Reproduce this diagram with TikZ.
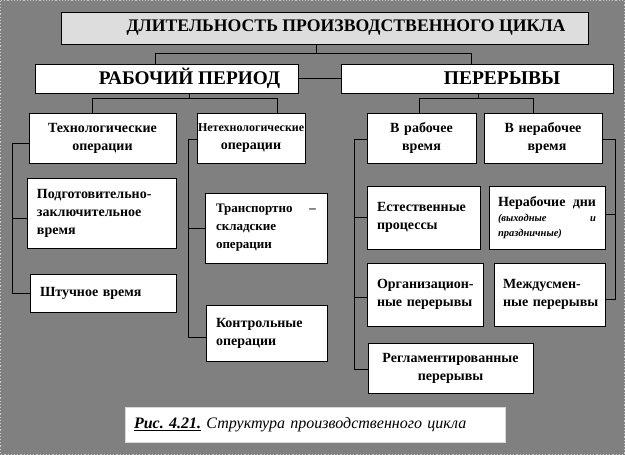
\documentclass[tikz,border=0pt]{standalone}
\usepackage{fontspec}
\setmainfont{Liberation Serif}
\usetikzlibrary{calc}
\definecolor{bggray}{HTML}{808080}
\definecolor{titlegray}{HTML}{DDDDDD}
\begin{document}
\begin{tikzpicture}[x=1pt,y=-1pt,
  box/.style={draw=black, line width=0.8pt, fill=white, inner sep=0pt,
    font=\bfseries\fontsize{14}{18}\selectfont},
  wire/.style={draw=black, line width=0.8pt},
  bigtxt/.style={font=\bfseries\fontsize{19.3}{20}\selectfont}]
\useasboundingbox (0,0) rectangle (625,455);
\fill[bggray] (0,0) rectangle (625,455);
\draw[gray!40, dotted, line width=1.2pt] (0.6,0.6) rectangle (624.4,454.4);

% top levels
\node[box, fill=titlegray, minimum width=527pt, minimum height=32pt, font=\bfseries\fontsize{17.7}{20}\selectfont] (title) at (324.5,28) {\hspace*{43pt}ДЛИТЕЛЬНОСТЬ ПРОИЗВОДСТВЕННОГО ЦИКЛА};
\node[box, minimum width=263pt, minimum height=29pt, bigtxt] (rab) at (166.5,78.5) {\hspace*{46pt}РАБОЧИЙ ПЕРИОД};
\node[box, minimum width=272pt, minimum height=29pt, font=\bfseries\fontsize{19.5}{20}\selectfont] (per) at (477,78.5) {\hspace*{50pt}ПЕРЕРЫВЫ};

% second level
\node[box, minimum width=147pt, minimum height=50pt, text width=140pt, align=center] (tech) at (102.5,138) {Технологические\\операции};
\node[box, minimum width=108pt, minimum height=50pt, text width=106pt, align=center, font=\bfseries\fontsize{12}{18}\selectfont] (nontech) at (251,138) {Нетехнологические\\{\fontsize{14}{18}\selectfont операции}};
\node[box, minimum width=109pt, minimum height=50pt, text width=100pt, align=center] (inwork) at (421.5,138) {В рабочее\\время};
\node[box, minimum width=118pt, minimum height=50pt, text width=100pt, align=center] (nonwork) at (543,138) {В нерабочее\\\hspace*{8pt}время};

% left column
\node[box, minimum width=149pt, minimum height=70pt, text width=129pt, align=left] (prep) at (101.5,213) {Подготовительно-\\заключительное\\время};
\node[box, minimum width=146pt, minimum height=38pt, text width=126pt, align=left] (piece) at (103,293) {Штучное время};

% middle column
\node[box, minimum width=122pt, minimum height=70pt, text width=100pt, align=left, font=\bfseries\fontsize{13}{18}\selectfont] (transp) at (266,228) {Транспортно\hfill –\\складские\\операции};
\node[box, minimum width=121pt, minimum height=56pt, text width=101pt, align=left] (control) at (266.5,333) {Контрольные\\операции};

% right columns
\node[box, minimum width=113pt, minimum height=63pt, text width=93pt, align=left] (natural) at (423.5,217.5) {Естественные\\процессы};
\node[box, minimum width=116pt, minimum height=63pt, text width=98pt, align=left] (days) at (547,217.5) {Нерабочие\hfill дни\\[-3pt]{\itshape\fontsize{10.5}{15}\selectfont(выходные\hfill и}\\[-3pt]{\itshape\fontsize{10.5}{15}\selectfont праздничные)}};
\node[box, minimum width=116pt, minimum height=63pt, text width=96pt, align=left] (org) at (425,294.5) {\mbox{Организацион-}\\\mbox{ные перерывы}};
\node[box, minimum width=111pt, minimum height=63pt, text width=93pt, align=left] (shift) at (549.5,294.5) {\mbox{Междусмен-}\\\mbox{ные перерывы}};
\node[box, minimum width=165pt, minimum height=50pt, text width=150pt, align=center] (regl) at (450.5,368) {Регламентированные\\перерывы};

% caption
\node[draw=white!85!black, line width=0.6pt, fill=white, minimum width=380pt, minimum height=35pt, text width=362pt, align=left, inner sep=0pt, font=\itshape\fontsize{16}{16}\selectfont] (cap) at (315,424.5) {\textbf{\underline{Рис.~4.21.}} Структура производственного цикла};

% connectors: top
\draw[wire] ([xshift=-8.5pt]title.south) -- ++(0,10);
\draw[wire] ([xshift=-11.5pt]rab.north) -- ++(0,-10) -| ([xshift=-6pt]per.north);
\draw[wire] (rab.east) -- (per.west);

% rab -> tech / nontech
\draw[wire] ([xshift=22.5pt]rab.south) -- ++(0,6);
\draw[wire] ([xshift=-10.5pt]tech.north) -- ++(0,-14) -| ([xshift=26pt]nontech.north);

% per -> inwork / nonwork
\draw[wire] ([xshift=1pt]per.south) -- ++(0,6);
\draw[wire] ([xshift=-2.5pt]inwork.north) -- ++(0,-14) -| ([xshift=-10pt]nonwork.north);

% tech bracket
\draw[wire] ([yshift=-5pt]tech.west) -| ([xshift=-17pt]piece.west) -- (piece.west);
\draw[wire] ([yshift=-5pt]prep.west) -- ++(-14,0);

% nontech bracket
\draw[wire] ([yshift=-1pt]nontech.west) -| ([xshift=-17pt,yshift=-4pt]control.west) -- ([yshift=-4pt]control.west);
\draw[wire] (transp.west) -- ++(-16,0);

% inwork bracket
\draw[wire] ([yshift=-1pt]inwork.west) -| ([xshift=-13pt,yshift=-1pt]regl.west) -- ([yshift=-1pt]regl.west);
\draw[wire] (natural.west) -- ++(-12,0);
\draw[wire] ([yshift=-2.5pt]org.west) -- ++(-12,0);

% nonwork bracket (right)
\draw[wire] ([yshift=-1pt]nonwork.east) -| ([xshift=10pt,yshift=-4.5pt]shift.east) -- ([yshift=-4.5pt]shift.east);
\draw[wire] ([yshift=3.5pt]days.east) -- ++(10,0);
\end{tikzpicture}
\end{document}
